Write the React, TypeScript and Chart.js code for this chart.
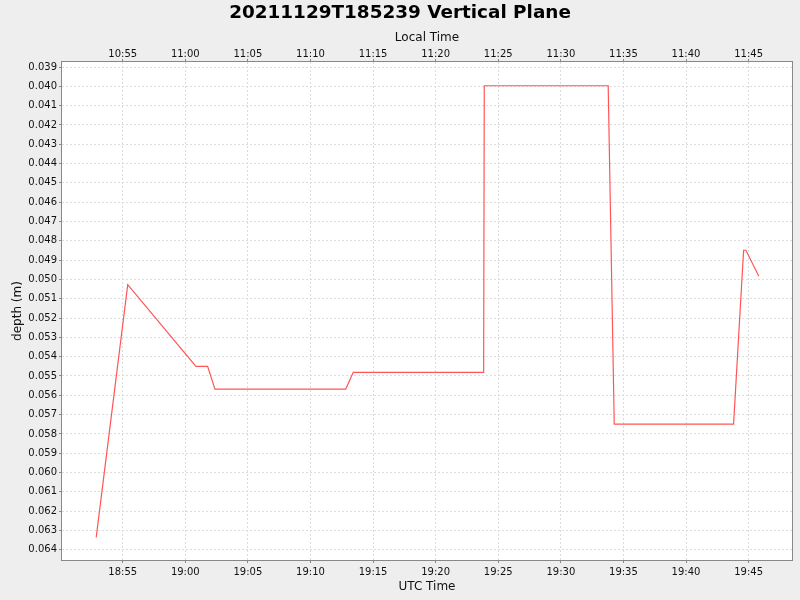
import React, { useEffect, useRef } from 'react';
import { Chart, registerables } from 'chart.js';

Chart.register(...registerables);

// ---- data ----
const titleText = '20211129T185239 Vertical Plane';
const utcTimes = [
  '18:52:53', '18:55:24', '19:00:51', '19:01:47', '19:02:22', '19:12:49', '19:13:25',
  '19:23:50', '19:23:53', '19:33:47', '19:34:16', '19:43:48', '19:44:36', '19:44:47', '19:45:49',
];
const depths = [
  0.06336, 0.05027, 0.0545, 0.0545, 0.05568, 0.05568, 0.05481,
  0.05481, 0.03997, 0.03997, 0.05749, 0.05749, 0.04849, 0.04849, 0.04984,
];
const utcTickLabels = ['18:55', '19:00', '19:05', '19:10', '19:15', '19:20', '19:25', '19:30', '19:35', '19:40', '19:45'];
const depthTickLabels = [
  '0.039', '0.040', '0.041', '0.042', '0.043', '0.044', '0.045', '0.046', '0.047', '0.048',
  '0.049', '0.050', '0.051', '0.052', '0.053', '0.054', '0.055', '0.056', '0.057', '0.058',
  '0.059', '0.060', '0.061', '0.062', '0.063', '0.064',
];
const localOffsetHours = -8;
const xRange = ['18:50:09', '19:48:28'];
const yRange = [0.03874, 0.06453];

const toMin = (s: string) => {
  const p = s.split(':').map(Number);
  return p[0] * 60 + p[1] + (p[2] || 0) / 60;
};
const fmt = (m: number) => {
  let t = Math.round(m);
  t = ((t % 1440) + 1440) % 1440;
  const h = Math.floor(t / 60);
  const mm = t % 60;
  return String(h).padStart(2, '0') + ':' + String(mm).padStart(2, '0');
};

const FONT = '"DejaVu Sans", sans-serif';

export default function App() {
  const ref = useRef<HTMLCanvasElement | null>(null);
  useEffect(() => {
    if (!ref.current) return;
    const xTicks = utcTickLabels.map((s) => ({ value: toMin(s) }));
    const yTicks = depthTickLabels.map((s) => ({ value: parseFloat(s) }));
    const xmin = toMin(xRange[0]);
    const xmax = toMin(xRange[1]);
    const bgPlugin = {
      id: 'bg',
      beforeDraw(chart: any) {
        const { ctx, chartArea: a } = chart;
        ctx.save();
        ctx.fillStyle = '#eeeeee';
        ctx.fillRect(0, 0, chart.width, chart.height);
        ctx.fillStyle = '#ffffff';
        ctx.fillRect(a.left, a.top, a.right - a.left, a.bottom - a.top);
        ctx.restore();
      },
      afterDraw(chart: any) {
        const { ctx, chartArea: a } = chart;
        ctx.save();
        ctx.strokeStyle = '#888888';
        ctx.lineWidth = 1;
        ctx.strokeRect(Math.round(a.left) - 0.5, Math.round(a.top) - 0.5, a.right - a.left + 1, a.bottom - a.top + 1);
        // chart title, centred on the full canvas width
        ctx.fillStyle = '#000000';
        ctx.font = 'bold 18.4px ' + FONT;
        ctx.textAlign = 'center';
        ctx.textBaseline = 'middle';
        ctx.fillText(titleText, chart.width / 2, 13);
        ctx.restore();
      },
    };
    const tickFont = { family: FONT, size: 10 };
    const titleFont = { family: FONT, size: 12 };
    const grid = {
      color: '#dcdcdc',
      tickColor: '#888888',
      tickLength: 3,
      tickBorderDash: [],
    };
    const chart = new Chart(ref.current, {
      type: 'line',
      data: {
        datasets: [
          {
            label: 'depth',
            data: utcTimes.map((t, i) => ({ x: toMin(t), y: depths[i] })),
            borderColor: '#ff5555',
            borderWidth: 1.2,
            pointRadius: 0,
            tension: 0,
            fill: false,
          },
        ],
      },
      options: {
        animation: false,
        responsive: false,
        devicePixelRatio: 1,
        layout: { padding: { left: 0, right: 8, top: 0, bottom: 0 } },
        plugins: {
          legend: { display: false },
          tooltip: { enabled: false },
          title: { display: false },
        },
        scales: {
          x: {
            type: 'linear',
            position: 'bottom',
            min: xmin,
            max: xmax,
            afterBuildTicks: (s: any) => { s.ticks = xTicks.map((t) => ({ ...t })); },
            afterFit: (s: any) => { s.height = 40; },
            ticks: { font: tickFont, color: '#111111', padding: 3, maxRotation: 0, autoSkip: false, callback: (v: any) => fmt(Number(v)) },
            grid: { ...grid },
            border: { display: false, dash: [2, 2] },
            title: { display: true, text: 'UTC Time', font: titleFont, color: '#111111', padding: { top: 0, bottom: 5.8 } },
          },
          x2: {
            type: 'linear',
            position: 'top',
            min: xmin,
            max: xmax,
            afterBuildTicks: (s: any) => { s.ticks = xTicks.map((t) => ({ ...t })); },
            afterFit: (s: any) => { s.height = 62; },
            ticks: { font: tickFont, color: '#111111', padding: -1, maxRotation: 0, autoSkip: false, callback: (v: any) => fmt(Number(v) + localOffsetHours * 60) },
            grid: { ...grid, drawOnChartArea: false },
            border: { display: false },
            title: { display: true, text: 'Local Time', font: titleFont, color: '#111111', padding: { top: 30.9, bottom: 0 } },
          },
          y: {
            type: 'linear',
            position: 'left',
            reverse: true,
            min: yRange[0],
            max: yRange[1],
            afterBuildTicks: (s: any) => { s.ticks = yTicks.map((t) => ({ ...t })); },
            afterFit: (s: any) => { s.width = 62; },
            ticks: { font: tickFont, color: '#111111', padding: 2, autoSkip: false, callback: (v: any) => Number(v).toFixed(3) },
            grid: { ...grid },
            border: { display: false, dash: [2, 2] },
            title: { display: true, text: 'depth (m)', font: titleFont, color: '#111111', padding: { top: 10.5, bottom: 0 } },
          },
        },
      },
      plugins: [bgPlugin],
    } as any);
    return () => chart.destroy();
  }, []);
  return (
    <div style={{ position: 'absolute', left: 0, top: 0, width: 800, height: 600 }}>
      <canvas ref={ref} width={800} height={600} style={{ display: 'block', width: 800, height: 600 }} />
    </div>
  );
}
